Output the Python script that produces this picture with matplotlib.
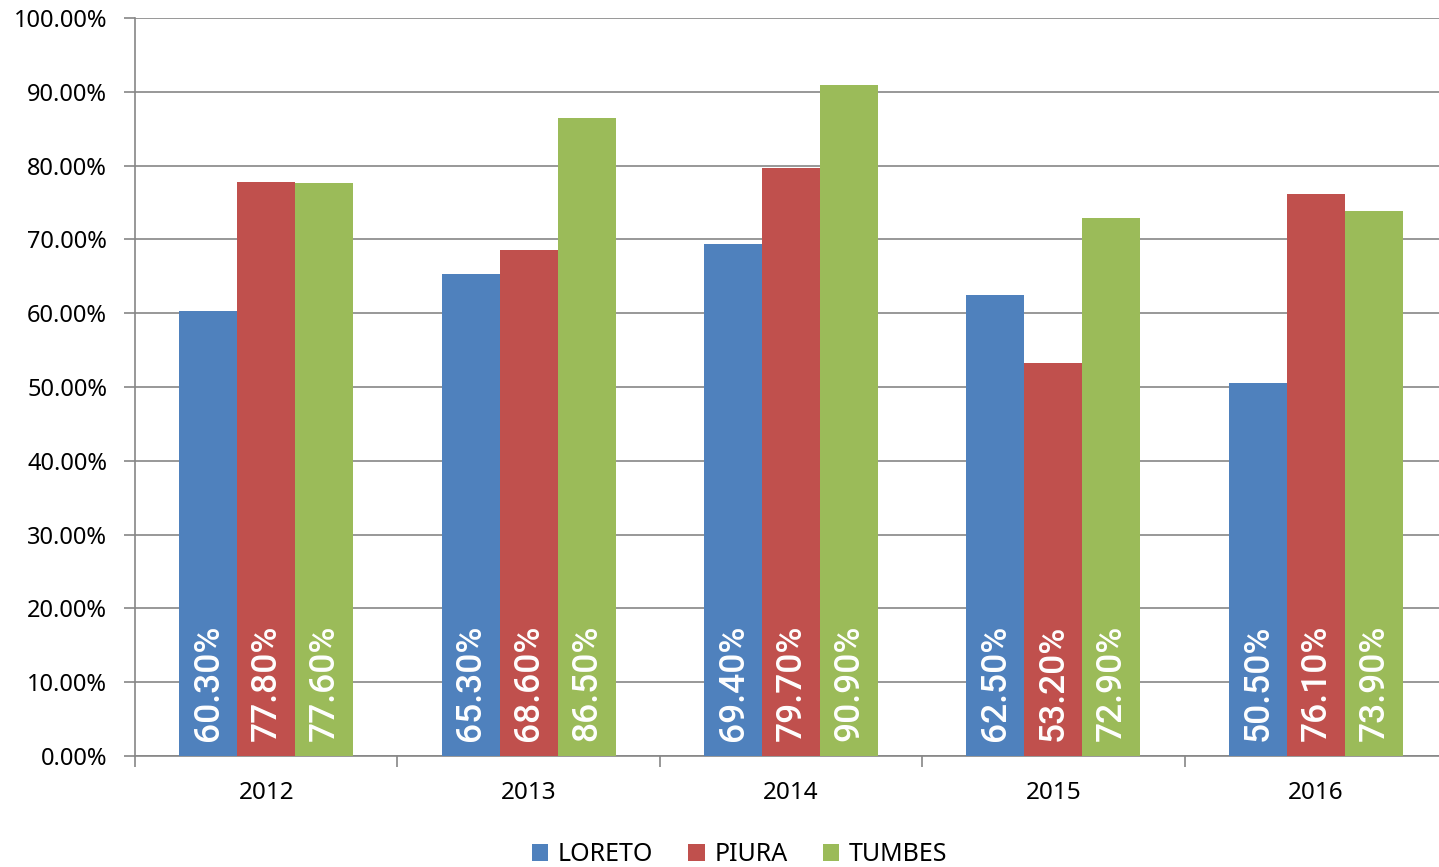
import matplotlib
matplotlib.use('Agg')
import matplotlib.pyplot as plt
import numpy as np
from matplotlib.ticker import FuncFormatter, FixedLocator

plt.rcParams['font.family'] = ['Noto Sans', 'DejaVu Sans']

years = ['2012', '2013', '2014', '2015', '2016']
loreto = [60.3, 65.3, 69.4, 62.5, 50.5]
piura = [77.8, 68.6, 79.7, 53.2, 76.1]
tumbes = [77.6, 86.5, 90.9, 72.9, 73.9]

series = [('LORETO', loreto, '#4F81BD'),
          ('PIURA', piura, '#C0504D'),
          ('TUMBES', tumbes, '#9BBB59')]

fig = plt.figure(figsize=(14.39, 8.67), dpi=100)
# plot area runs a little past the right edge of the image, as in the original
ax = fig.add_axes([135 / 1439, 111 / 867, 1312 / 1439, 738 / 867])

x = np.arange(len(years))
w = 0.221
for i, (name, vals, col) in enumerate(series):
    pos = x + (i - 1) * w
    ax.bar(pos, vals, width=w, color=col, label=name, zorder=3)
    for p, v in zip(pos, vals):
        ax.annotate(f'{v:.2f}%', (p, 0), xytext=(0, 11), textcoords='offset points',
                    rotation=90, ha='center', va='bottom', color='white',
                    fontsize=25.5, family=['Roboto', 'DejaVu Sans'],
                    fontweight='medium', zorder=4)

ax.set_xlim(-0.5, 4.5)
ax.set_ylim(0, 100)
ax.set_yticks(np.arange(0, 101, 10))
ax.yaxis.set_major_formatter(FuncFormatter(lambda v, _: f'{v:.2f}%'))
ax.set_xticks(x)
ax.set_xticklabels(years)
ax.xaxis.set_minor_locator(FixedLocator(np.arange(-0.5, 5, 1)))

ax.grid(axis='y', color='#868686', linewidth=1.2, zorder=0)
for s in ['top', 'right']:
    ax.spines[s].set_visible(False)
for s in ['left', 'bottom']:
    ax.spines[s].set_color('#868686')
    ax.spines[s].set_linewidth(1.2)

ax.tick_params(axis='y', length=8, color='#868686', width=1.2, labelsize=17, pad=12)
ax.tick_params(axis='x', which='major', length=0, labelsize=17.5, pad=18)
ax.tick_params(axis='x', which='minor', length=8, color='#868686', width=1.2)

fig.legend(loc='lower center', bbox_to_anchor=(0.514, -0.026), ncol=3, frameon=False,
           fontsize=18, handlelength=0.65, handleheight=0.65, handletextpad=0.4,
           columnspacing=1.4)

fig.savefig('out.png', dpi=100)
